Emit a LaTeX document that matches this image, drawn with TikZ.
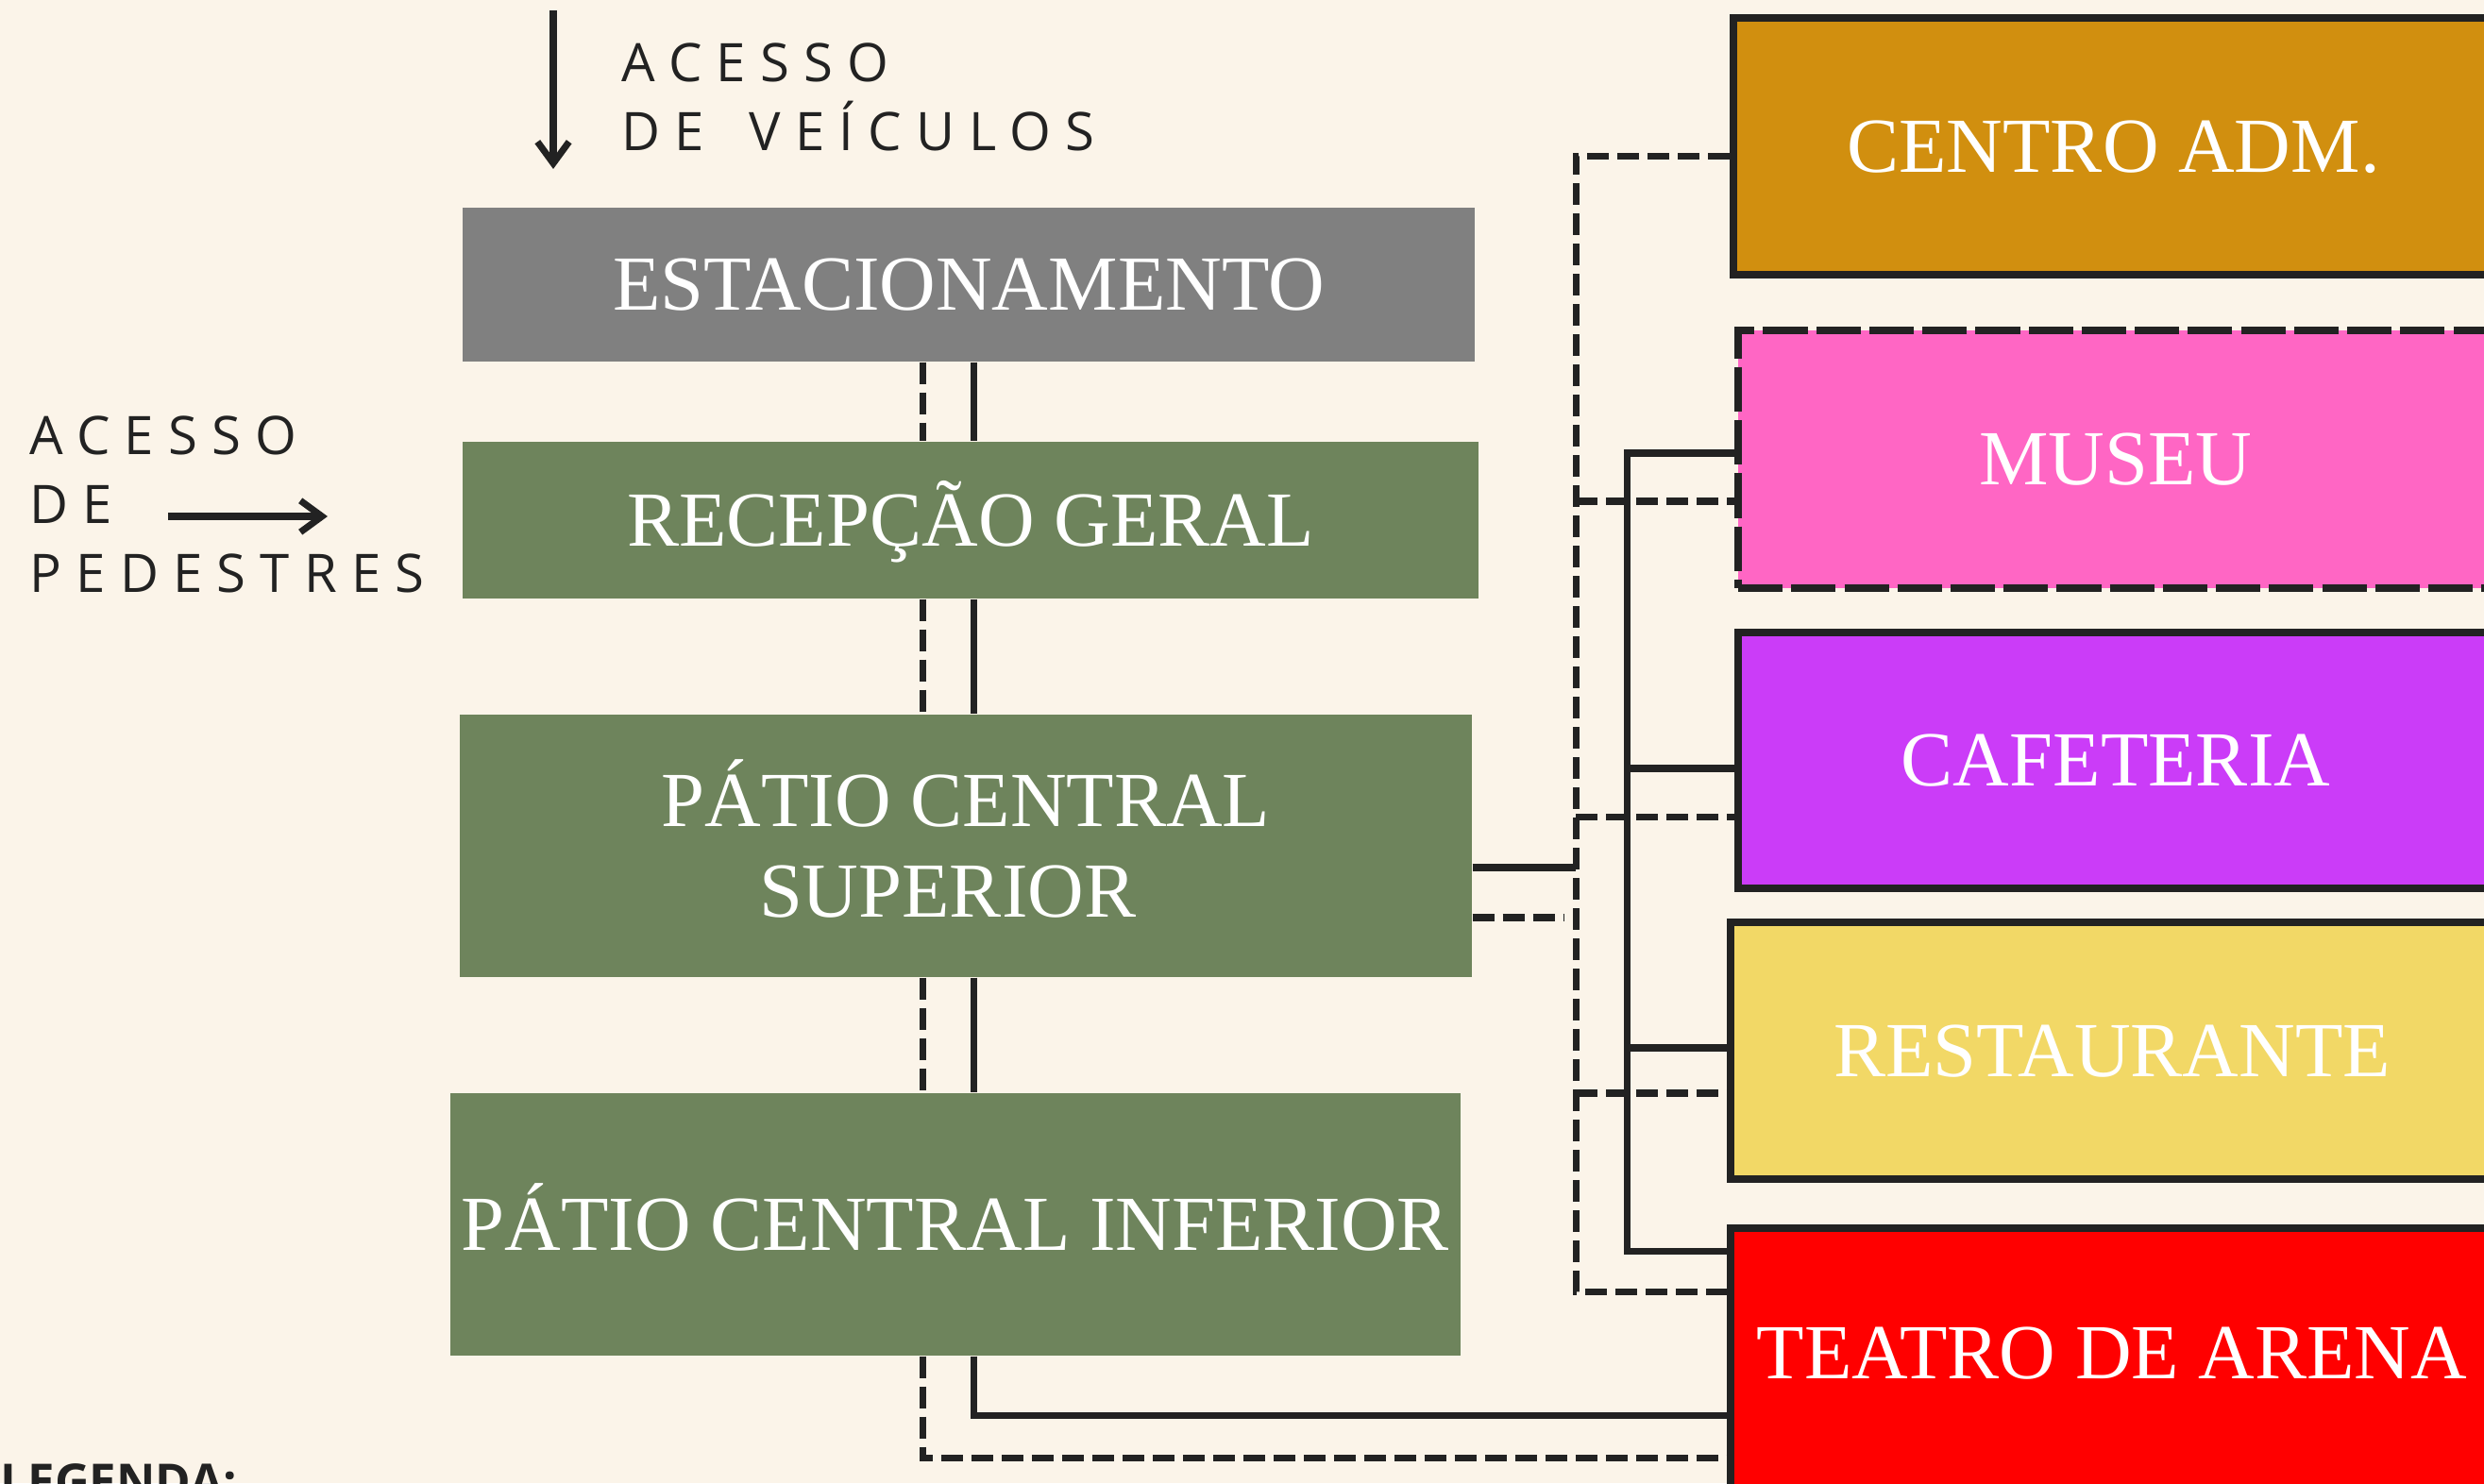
\documentclass[tikz,border=0pt]{standalone}
\usepackage{fontspec}
\setmainfont{Liberation Serif}
\newfontfamily\accfont[LetterSpace=27]{Open Sans}
\newfontfamily\legfont{Open Sans}
\usetikzlibrary{arrows.meta}
\definecolor{PBack}{HTML}{FBF4E9}
\definecolor{PGray}{HTML}{808080}
\definecolor{PGreen}{HTML}{6E845C}
\definecolor{PGold}{HTML}{D18F0F}
\definecolor{PPink}{HTML}{FF66C4}
\definecolor{PPurple}{HTML}{CB3CF8}
\definecolor{PYellow}{HTML}{F2D866}
\definecolor{PRed}{HTML}{FF0000}
\definecolor{PInk}{HTML}{222222}

\begin{document}
\begin{tikzpicture}[
  lb/.style={fill=PGreen,text=white,inner sep=0pt,align=center,
    text height=15.6pt,text depth=0pt,
    font=\fontsize{23.5}{27.3}\selectfont},
  rb/.style={lb,draw=PInk,line width=2.3pt},
  sl/.style={draw=PInk,line width=2pt},
  dl/.style={sl,dash pattern=on 6.5pt off 2.6pt},
  acc/.style={anchor=north west,inner sep=0pt,align=left,text=PInk,
    font=\accfont\fontsize{16}{20.8}\selectfont},
  arr/.style={-{Straight Barb[length=6.5pt,width=9.5pt]},line width=2pt,color=PInk}
]
  \fill[PBack] (0,0) rectangle (26.31,-15.71);
  \useasboundingbox (0,0) rectangle (26.31,-15.71);

  % central column
  \node[lb,fill=PGray,minimum width=10.72cm,minimum height=1.63cm] (est) at (10.26,-3.015) {ESTACIONAMENTO};
  \node[lb,minimum width=10.76cm,minimum height=1.66cm] (rec) at (10.28,-5.51) {RECEPÇÃO GERAL};
  \node[lb,minimum width=10.72cm,minimum height=2.78cm,text height=42.9pt] (sup) at (10.23,-8.96) {PÁTIO CENTRAL\\SUPERIOR\kern11pt};
  \node[lb,minimum width=10.70cm,minimum height=2.78cm] (inf) at (10.12,-12.97) {PÁTIO CENTRAL INFERIOR};

  % blocks on the right
  \node[rb,fill=PGold,minimum width=8.05cm,minimum height=2.72cm] (adm) at (22.385,-1.55) {CENTRO ADM.};
  \node[rb,fill=PPink,dash pattern=on 13.4pt off 2.6pt,minimum width=8.0cm,minimum height=2.73cm] (mus) at (22.41,-4.865) {MUSEU};
  \node[rb,fill=PPurple,minimum width=8.0cm,minimum height=2.71cm] (caf) at (22.41,-8.055) {CAFETERIA};
  \node[rb,fill=PYellow,minimum width=8.08cm,minimum height=2.72cm] (res) at (22.37,-11.13) {RESTAURANTE};
  \node[rb,fill=PRed,minimum width=8.08cm,minimum height=2.80cm,text depth=4.6pt] (tea) at (22.37,-14.41) {TEATRO DE ARENA};

  % accesses
  \node[acc] (veh) at (6.58,-0.45) {ACESSO\\DE\kern5pt{} VEÍCULOS};
  \node[acc] (ped) at (0.31,-4.40) {ACESSO\\DE\\PEDESTRES};
  \coordinate (vin) at (5.86,-0.11);
  \coordinate (vout) at (5.86,-1.79);
  \coordinate (pin) at (1.78,-5.47);
  \coordinate (pout) at (3.47,-5.47);
  \draw[arr] (vin) -- (vout);
  \draw[arr] (pin) -- (pout);

  % links of the column
  \coordinate (dx) at (9.77,0);
  \coordinate (sx) at (10.31,0);
  \coordinate (dbase) at (0,-15.445);
  \coordinate (sbase) at (0,-14.995);
  \draw[dl] (est.south -| dx) -- (rec.north -| dx);
  \draw[sl] (est.south -| sx) -- (rec.north -| sx);
  \draw[dl] (rec.south -| dx) -- (sup.north -| dx);
  \draw[sl] (rec.south -| sx) -- (sup.north -| sx);
  \draw[dl] (sup.south -| dx) -- (inf.north -| dx);
  \draw[sl] (sup.south -| sx) -- (inf.north -| sx);
  \draw[dl] (inf.south -| dx) |- (tea.west |- dbase);
  \draw[sl] (inf.south -| sx) |- (tea.west |- sbase);

  % links on the right
  \coordinate (d1) at (16.69,-1.655);
  \coordinate (d2) at (16.69,-5.31);
  \coordinate (d3) at (16.69,-8.655);
  \coordinate (d4) at (16.69,-11.58);
  \coordinate (d5) at (16.69,-13.68);
  \coordinate (s2) at (17.23,-4.80);
  \coordinate (s3) at (17.23,-8.14);
  \coordinate (s4) at (17.23,-11.10);
  \coordinate (s5) at (17.23,-13.25);
  \coordinate (ps) at (16.69,-9.19);
  \coordinate (pd) at (16.57,-9.72);
  \draw[dl] (adm.west |- d1) -- (d1) -- (d5) -- (tea.west |- d5);
  \draw[dl] (d2) -- (mus.west |- d2);
  \draw[dl] (d3) -- (caf.west |- d3);
  \draw[dl] (d4) -- (res.west |- d4);
  \draw[sl] (mus.west |- s2) -- (s2) -- (s5) -- (tea.west |- s5);
  \draw[sl] (s3) -- (caf.west |- s3);
  \draw[sl] (s4) -- (res.west |- s4);
  \draw[sl] (sup.east |- ps) -- (ps);
  \draw[dl] (sup.east |- pd) -- (pd);

  \node[anchor=north west,inner sep=0pt,text=PInk,
    font=\legfont\bfseries\fontsize{14.5}{17}\selectfont] (leg) at (0,-15.50) {LEGENDA:};
\end{tikzpicture}
\end{document}
